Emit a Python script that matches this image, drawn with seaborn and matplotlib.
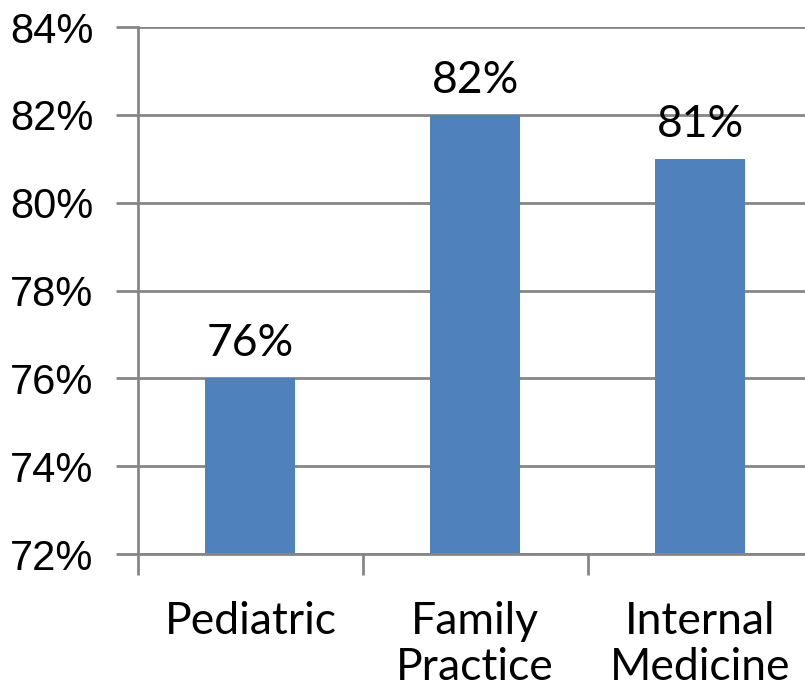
import numpy as np
import pandas as pd
import matplotlib
matplotlib.use("Agg")
import matplotlib.pyplot as plt
import seaborn as sns
from matplotlib.ticker import FixedLocator

# Data
categories = ["Pediatric", "Family\nPractice", "Internal\nMedicine"]
values = [76, 82, 81]
y_ticks = [72, 74, 76, 78, 80, 82, 84]

sns.set_theme(style="white")
plt.rcParams["font.family"] = ["Liberation Sans", "DejaVu Sans"]
plt.rcParams["text.color"] = "black"
plt.rcParams["xtick.labelcolor"] = "black"
plt.rcParams["ytick.labelcolor"] = "black"

bar_color = "#4F81BD"
grid_color = "#868686"

df = pd.DataFrame({"category": categories, "value": values})

fig = plt.figure(figsize=(8.05, 6.94), dpi=100)
ax = fig.add_axes([0.1714, 0.2017, 0.8379, 0.7593])

sns.barplot(data=df, x="category", y="value", color=bar_color, width=0.4,
            saturation=1, linewidth=0, ax=ax)

ax.set_ylim(72, 84)
ax.set_xlim(-0.5, 2.5)
ax.set_yticks(y_ticks)
ax.set_yticklabels([f"{t}%" for t in y_ticks], fontsize=30)
ax.yaxis.grid(True, color=grid_color, linewidth=2)
ax.set_axisbelow(True)

ax.set_xlabel("")
ax.set_ylabel("")
ax.set_xticks(range(len(categories)))
ax.set_xticklabels(categories, fontsize=32, family=["Lato", "DejaVu Sans"],
                   linespacing=1.15)
ax.xaxis.set_minor_locator(FixedLocator([-0.5, 0.5, 1.5]))
ax.tick_params(axis="x", which="major", length=0, pad=34)
ax.tick_params(axis="x", which="minor", length=15, width=2, color=grid_color,
               direction="out", bottom=True)
ax.tick_params(axis="y", length=16, width=2, color=grid_color, direction="out",
               left=True, pad=16)

for side in ["top", "right"]:
    ax.spines[side].set_visible(False)
for side in ["left", "bottom"]:
    ax.spines[side].set_color(grid_color)
    ax.spines[side].set_linewidth(2)

for i, v in enumerate(values):
    ax.annotate(f"{v}%", (i, v), xytext=(0, 10), textcoords="offset points",
                ha="center", va="bottom", fontsize=32, color="black",
                family=["Lato", "DejaVu Sans"])

fig.savefig("out.png", dpi=100, facecolor="white")
